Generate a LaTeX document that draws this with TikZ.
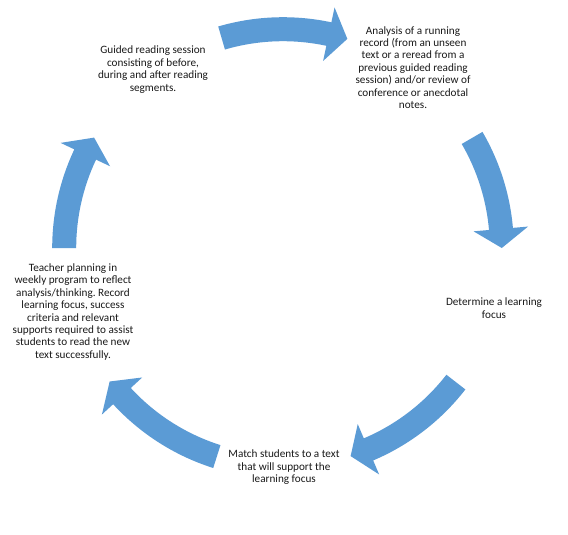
\documentclass[tikz,border=0pt]{standalone}
\usepackage{fontspec}
\setmainfont{Carlito}
\usetikzlibrary{calc}
\frenchspacing
\definecolor{arrowblue}{HTML}{5B9BD5}
\definecolor{txtgray}{HTML}{1A1A1A}
\tikzset{
  arrowfill/.style={fill=arrowblue, draw=none},
  steptext/.style={align=center, text=txtgray, inner sep=0pt, font=\fontsize{11.2}{12.4}\selectfont}
}
% #1 tail angle, #2 tip angle (clockwise arrow)
\newcommand{\circarrow}[2]{%
  \fill[arrowfill] ($(C)+(#1:230.8pt)$) arc[start angle=#1, end angle=#2+5, radius=230.8pt]
    -- ($(C)+(#2+5:246pt)$) -- ($(C)+(#2:218.8pt)$) -- ($(C)+(#2+5:191.3pt)$)
    -- ($(C)+(#2+5:206.8pt)$) arc[start angle=#2+5, end angle=#1, radius=206.8pt] -- cycle;}
\begin{document}
\begin{tikzpicture}
\fill[white] (0pt,0pt) rectangle (568pt,-535pt);
\useasboundingbox (0pt,0pt) rectangle (568pt,-535pt);
\coordinate (C) at (283pt,-248pt);

\circarrow{106.3}{72.9}
\circarrow{30.2}{0}
\circarrow{-37.8}{-72}
\circarrow{-107.6}{-142.4}
\circarrow{180}{149.7}

\node[steptext] (analysis) at (413pt,-67.5pt) {Analysis of a running\\record (from an unseen\\text or a reread from a\\previous guided reading\\session) and/or review of\\conference or anecdotal\\notes.};
\node[steptext] (determine) at (494pt,-308.3pt) {Determine a learning\\focus};
\node[steptext] (match) at (284pt,-467.3pt) {Match students to a text\\that will support the\\learning focus};
\node[steptext] (teacher) at (73pt,-312pt) {Teacher planning in\\weekly program to reflect\\analysis/thinking. Record\\learning focus, success\\criteria and relevant\\supports required to assist\\students to read the new\\text successfully.};
\node[steptext] (guided) at (153pt,-69.5pt) {Guided reading session\\consisting of before,\\during and after reading\\segments.};
\end{tikzpicture}
\end{document}
